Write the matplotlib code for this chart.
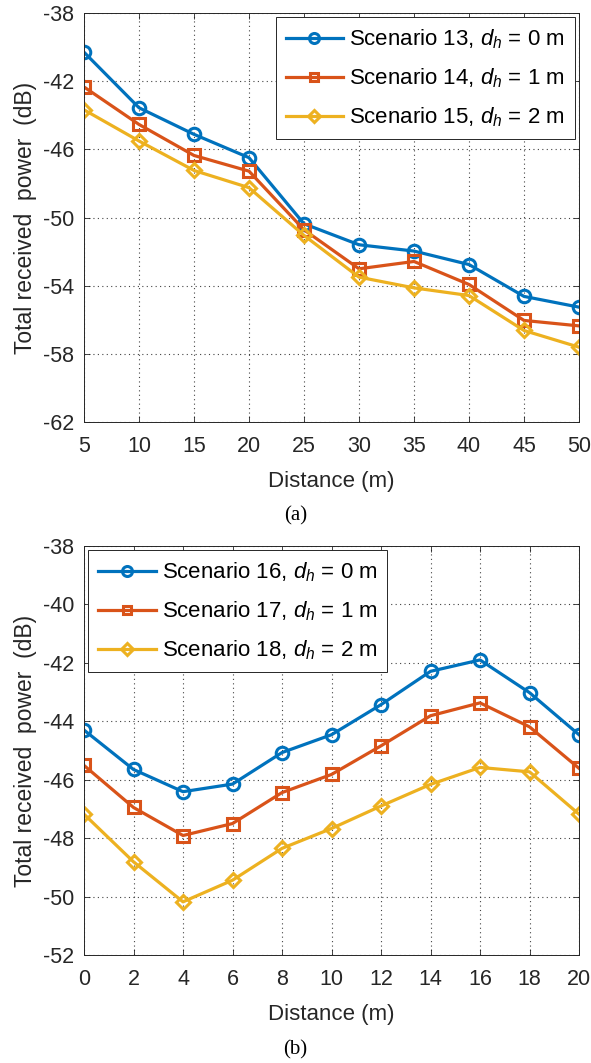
import matplotlib
matplotlib.use("Agg")
import matplotlib.pyplot as plt

plt.rcParams['font.family'] = ['Liberation Sans', 'DejaVu Sans']
plt.rcParams['mathtext.fontset'] = 'custom'
plt.rcParams['mathtext.rm'] = 'Liberation Sans'
plt.rcParams['mathtext.it'] = 'Liberation Sans:italic'
plt.rcParams['axes.unicode_minus'] = False

# Panel (a)
dist_a = [5, 10, 15, 20, 25, 30, 35, 40, 45, 50]
s13 = [-40.3, -43.56, -45.12, -46.49, -50.37, -51.6, -51.97, -52.76, -54.63, -55.26]
s14 = [-42.34, -44.54, -46.36, -47.28, -50.72, -53.01, -52.58, -53.93, -56.04, -56.36]
s15 = [-43.68, -45.51, -47.24, -48.25, -51.05, -53.5, -54.13, -54.58, -56.63, -57.61]
labels_a = ['Scenario 13, $d_h$ = 0 m', 'Scenario 14, $d_h$ = 1 m', 'Scenario 15, $d_h$ = 2 m']
yticks_a = [-62, -58, -54, -50, -46, -42, -38]
xticks_a = [5, 10, 15, 20, 25, 30, 35, 40, 45, 50]

# Panel (b)
dist_b = [0, 2, 4, 6, 8, 10, 12, 14, 16, 18, 20]
s16 = [-44.30, -45.65, -46.41, -46.15, -45.07, -44.46, -43.43, -42.29, -41.90, -43.02, -44.46]
s17 = [-45.51, -46.95, -47.91, -47.50, -46.44, -45.82, -44.84, -43.81, -43.37, -44.19, -45.61]
s18 = [-47.18, -48.81, -50.18, -49.44, -48.35, -47.67, -46.90, -46.16, -45.58, -45.73, -47.18]
labels_b = ['Scenario 16, $d_h$ = 0 m', 'Scenario 17, $d_h$ = 1 m', 'Scenario 18, $d_h$ = 2 m']
yticks_b = [-52, -50, -48, -46, -44, -42, -40, -38]
xticks_b = [0, 2, 4, 6, 8, 10, 12, 14, 16, 18, 20]

colors = ['#0072BD', '#D95319', '#EDB120']
markers = ['o', 's', 'D']
msizes = [9, 8, 7.5]

W, H = 591, 1063
fig = plt.figure(figsize=(W / 100, H / 100), dpi=100)


def make_axes(rect, x, ys, labels, xticks, yticks, loc, caption, cap_y):
    l, t, r, b = rect
    ax = fig.add_axes([l / W, 1 - b / H, (r - l) / W, (b - t) / H])
    for y, lab, c, m, ms in zip(ys, labels, colors, markers, msizes):
        ax.plot(x, y, color=c, marker=m, markersize=ms,
                markerfacecolor='none', markeredgewidth=2.2, linewidth=2.3, label=lab)
    ax.set_xlim(xticks[0], xticks[-1])
    ax.set_ylim(yticks[0], yticks[-1])
    ax.set_xticks(xticks)
    ax.set_yticks(yticks)
    ax.grid(True, linestyle=(0, (1, 3)), color='#222222', linewidth=0.8, alpha=0.85)
    ax.tick_params(direction='in', top=True, right=True, labelsize=15.5, length=4,
                   width=0.6, pad=7, colors='#262626')
    ax.tick_params(axis='x', pad=10)
    for sp in ax.spines.values():
        sp.set_linewidth(0.7)
        sp.set_color('#262626')
    ax.set_xlabel('Distance (m)', fontsize=16, labelpad=10, color='#262626')
    ax.set_ylabel('Total received  power  (dB)', fontsize=16.5, labelpad=4, color='#262626')
    leg = ax.legend(loc=loc, fontsize=16, frameon=True, fancybox=False,
                    edgecolor='#262626', framealpha=1, handlelength=2.6,
                    borderpad=0.45, labelspacing=0.7, handletextpad=0.25,
                    borderaxespad=0.2, markerscale=0.8)
    leg.get_frame().set_linewidth(0.7)
    fig.text(0.5, 1 - cap_y / H, caption, ha='center', va='center',
             fontsize=15, family=['Liberation Serif', 'DejaVu Serif'])
    return ax


make_axes((84, 13, 579, 422), dist_a, [s13, s14, s15], labels_a, xticks_a, yticks_a,
          'upper right', '(a)', 516)
make_axes((84, 546, 579, 955), dist_b, [s16, s17, s18], labels_b, xticks_b, yticks_b,
          'upper left', '(b)', 1050)

fig.savefig('out.png', dpi=100)
